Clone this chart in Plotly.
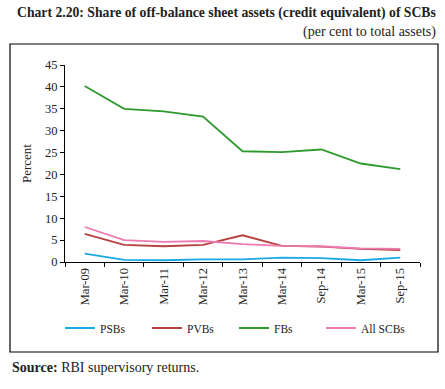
import plotly.graph_objects as go

categories = ["Mar-09", "Mar-10", "Mar-11", "Mar-12", "Mar-13", "Mar-14", "Sep-14", "Mar-15", "Sep-15"]
psbs = [1.9, 0.5, 0.4, 0.6, 0.6, 1.0, 0.9, 0.4, 1.0]
pvbs = [6.4, 3.9, 3.6, 3.9, 6.1, 3.7, 3.5, 3.0, 2.7]
fbs = [40.2, 35.0, 34.4, 33.2, 25.3, 25.1, 25.7, 22.5, 21.2]
all_scbs = [8.0, 5.0, 4.6, 4.8, 4.1, 3.7, 3.6, 3.1, 3.0]
y_ticks = [0, 5, 10, 15, 20, 25, 30, 35, 40, 45]

series = [
    ("PSBs", psbs, "#1BA8E4"),
    ("PVBs", pvbs, "#B8413F"),
    ("FBs", fbs, "#2E9A2E"),
    ("All SCBs", all_scbs, "#EE7BB0"),
]

serif = "Liberation Serif, DejaVu Serif, serif"

fig = go.Figure()
for name, vals, color in series:
    fig.add_trace(go.Scatter(x=categories, y=vals, name=name, mode="lines",
                             line=dict(color=color, width=1.8)))

W, H = 445, 389
# plot area in page pixels: x 65..420, y 65..262
L, T = 65, 65
R, B = W - 420, H - 262
pw, ph = 420 - 65, 262 - 65

def px_x(p):
    return (p - 65) / pw

def px_y(p):
    return (262 - p) / ph

fig.update_layout(
    width=W, height=H,
    margin=dict(l=L, r=R, t=T, b=B),
    paper_bgcolor="white", plot_bgcolor="white",
    font=dict(family=serif, size=12, color="#222"),
    showlegend=True,
    legend=dict(orientation="h", x=px_x(60), xanchor="left", y=px_y(328), yanchor="middle",
                font=dict(size=11.5, family=serif), entrywidth=42, entrywidthmode="pixels",
                bgcolor="rgba(0,0,0,0)"),
    xaxis=dict(type="category", showgrid=False, showline=True, linecolor="#000", linewidth=1,
               ticks="outside", tickson="boundaries", ticklen=4, tickcolor="#000",
               tickangle=-90, tickfont=dict(size=12.5, family=serif), range=[-0.5, 8.5]),
    yaxis=dict(range=[0, 45], tickvals=y_ticks, showgrid=False, showline=True, linecolor="#000",
               linewidth=1, ticks="outside", ticklen=4, tickcolor="#000",
               tickfont=dict(size=12.5, family=serif),
               title=dict(text="Percent", font=dict(size=13, family=serif), standoff=10),
               zeroline=False),
    shapes=[dict(type="rect", xref="paper", yref="paper",
                 x0=px_x(10), x1=px_x(438), y0=px_y(352), y1=px_y(44),
                 line=dict(color="#000", width=1.2), fillcolor="rgba(0,0,0,0)", layer="below")],
    annotations=[
        dict(text="<b>Chart 2.20: Share of off-balance sheet assets (credit equivalent) of SCBs</b>",
             xref="paper", yref="paper", x=px_x(438), y=px_y(13), xanchor="right", yanchor="middle",
             showarrow=False, font=dict(size=13.7, family=serif, color="#222")),
        dict(text="(per cent to total assets)",
             xref="paper", yref="paper", x=px_x(438), y=px_y(32), xanchor="right", yanchor="middle",
             showarrow=False, font=dict(size=14, family=serif, color="#222")),
        dict(text="<b>Source:</b> RBI supervisory returns.",
             xref="paper", yref="paper", x=px_x(10), y=px_y(367), xanchor="left", yanchor="middle",
             showarrow=False, font=dict(size=14, family=serif, color="#222")),
    ],
)

fig.write_html("out.html", config={"displayModeBar": False},
               post_script="document.body.style.margin='0';document.body.style.padding='0';")
